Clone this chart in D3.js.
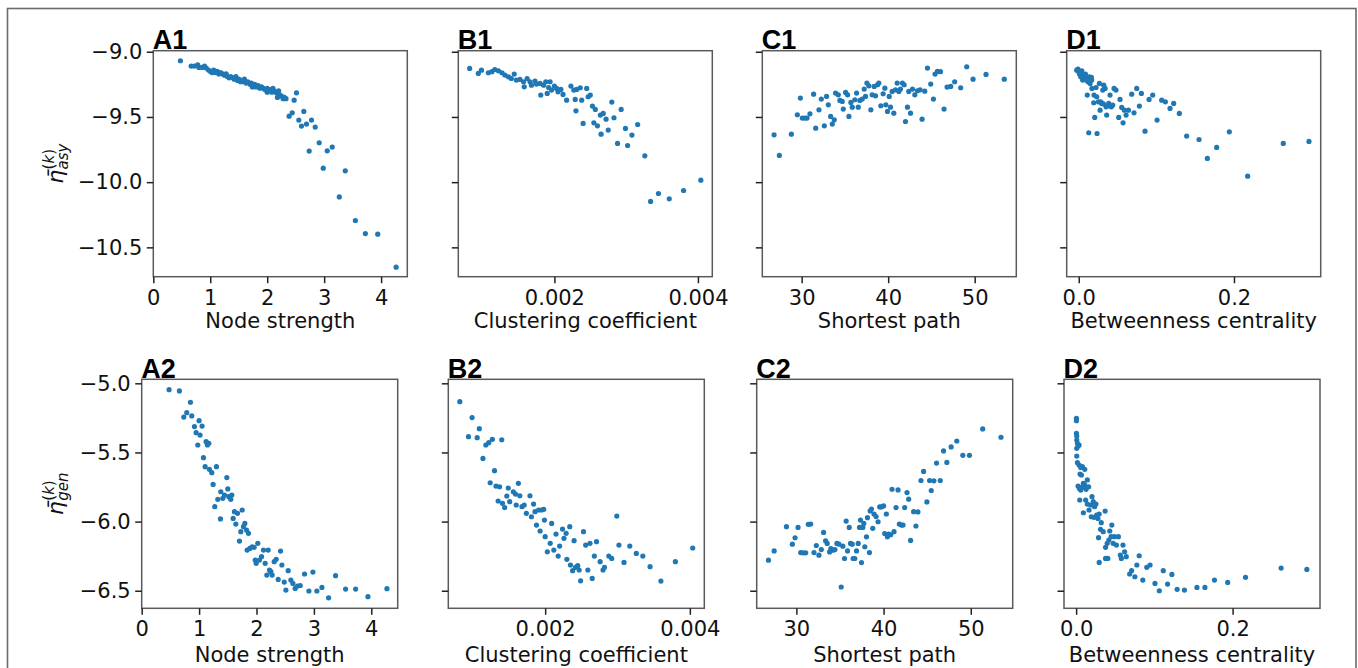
<!DOCTYPE html>
<html><head><meta charset="utf-8">
<script src="https://cdn.jsdelivr.net/npm/d3@7"></script>
<style>
html,body{margin:0;padding:0;background:#fff;}
svg{display:block;font-family:"DejaVu Sans",sans-serif;}
</style></head>
<body>
<svg id="chart" width="1358" height="668"></svg>
<script>
// ---------------- data ----------------
const strengthAsy = [[0.476,-9.069],[0.664,-9.110],[0.72,-9.11],[0.78,-9.10],[0.80,-9.12],[0.86,-9.12],[0.90,-9.11],[0.93,-9.125],[0.97,-9.14],[1.00,-9.15],[1.03,-9.16],[1.06,-9.14],[1.08,-9.16],[1.12,-9.15],[1.15,-9.17],[1.18,-9.16],[1.22,-9.17],[1.25,-9.18],[1.28,-9.17],[1.30,-9.19],[1.33,-9.20],[1.36,-9.19],[1.40,-9.20],[1.42,-9.21],[1.45,-9.19],[1.48,-9.22],[1.50,-9.21],[1.53,-9.23],[1.55,-9.22],[1.58,-9.23],[1.60,-9.21],[1.63,-9.24],[1.66,-9.23],[1.70,-9.25],[1.72,-9.24],[1.74,-9.27],[1.75,-9.26],[1.78,-9.25],[1.80,-9.27],[1.84,-9.26],[1.87,-9.28],[1.90,-9.27],[1.93,-9.28],[1.96,-9.29],[2.00,-9.28],[2.00,-9.31],[2.02,-9.30],[2.05,-9.29],[2.08,-9.31],[2.10,-9.28],[2.12,-9.30],[2.15,-9.31],[2.18,-9.32],[2.18,-9.35],[2.20,-9.30],[2.22,-9.33],[2.25,-9.34],[2.28,-9.36],[2.30,-9.35],[2.33,-9.36],[2.473,-9.371],[2.514,-9.315],[2.385,-9.494],[2.44,-9.468],[2.643,-9.458],[2.555,-9.524],[2.602,-9.570],[2.69,-9.555],[2.778,-9.524],[2.843,-9.578],[2.737,-9.762],[2.913,-9.698],[3.054,-9.760],[3.142,-9.731],[2.984,-9.893],[3.371,-9.913],[3.266,-10.113],[3.548,-10.294],[3.724,-10.394],[3.941,-10.399],[4.264,-10.652]];

const clusteringAsy = [[0.000819,-9.128],[0.00094,-9.166],[0.000984,-9.141],[0.00108,-9.161],[0.00113,-9.153],[0.00117,-9.136],[0.00122,-9.146],[0.00127,-9.161],[0.00131,-9.179],[0.00136,-9.192],[0.00140,-9.205],[0.00144,-9.171],[0.00147,-9.217],[0.00152,-9.212],[0.00157,-9.230],[0.00158,-9.269],[0.00162,-9.205],[0.00166,-9.230],[0.00168,-9.256],[0.00173,-9.225],[0.00175,-9.248],[0.00180,-9.243],[0.00181,-9.332],[0.00185,-9.256],[0.00188,-9.230],[0.00192,-9.274],[0.00194,-9.230],[0.00196,-9.294],[0.00200,-9.263],[0.00190,-9.320],[0.00203,-9.281],[0.00205,-9.307],[0.00209,-9.289],[0.00212,-9.327],[0.00217,-9.371],[0.00223,-9.263],[0.00227,-9.294],[0.00229,-9.366],[0.00230,-9.453],[0.00231,-9.289],[0.00236,-9.276],[0.00238,-9.371],[0.00240,-9.550],[0.00245,-9.281],[0.00247,-9.345],[0.00250,-9.332],[0.00253,-9.417],[0.00257,-9.442],[0.00255,-9.545],[0.00260,-9.568],[0.00264,-9.486],[0.00265,-9.632],[0.00268,-9.473],[0.00272,-9.517],[0.00275,-9.601],[0.00280,-9.386],[0.00283,-9.506],[0.00288,-9.703],[0.00293,-9.442],[0.00299,-9.588],[0.00302,-9.719],[0.00308,-9.639],[0.00316,-9.558],[0.00326,-9.798],[0.00334,-10.148],[0.00345,-10.087],[0.00360,-10.128],[0.00380,-10.064],[0.00404,-9.985]];

const pathAsy = [[26.81,-9.637],[27.42,-9.795],[28.81,-9.632],[29.50,-9.483],[29.85,-9.355],[30.08,-9.509],[30.38,-9.509],[30.62,-9.509],[30.96,-9.476],[31.38,-9.325],[31.62,-9.586],[32.0,-9.445],[32.27,-9.363],[32.62,-9.568],[32.88,-9.343],[33.08,-9.407],[33.35,-9.496],[33.54,-9.555],[33.77,-9.522],[33.92,-9.317],[34.23,-9.330],[34.42,-9.373],[34.69,-9.381],[34.81,-9.440],[35.08,-9.312],[35.31,-9.330],[35.46,-9.496],[35.69,-9.389],[35.85,-9.425],[36.15,-9.368],[36.35,-9.317],[36.54,-9.425],[36.73,-9.373],[37.0,-9.363],[37.23,-9.286],[37.38,-9.343],[37.54,-9.240],[37.77,-9.261],[38.0,-9.445],[38.15,-9.330],[38.38,-9.266],[38.54,-9.338],[38.77,-9.253],[38.92,-9.240],[39.15,-9.414],[39.42,-9.322],[39.62,-9.279],[39.73,-9.407],[39.92,-9.458],[40.12,-9.343],[40.27,-9.425],[40.46,-9.304],[40.65,-9.471],[40.85,-9.292],[41.04,-9.240],[41.23,-9.304],[41.42,-9.286],[41.65,-9.240],[41.85,-9.253],[42.0,-9.535],[42.23,-9.425],[42.38,-9.304],[42.58,-9.471],[42.81,-9.286],[43.08,-9.330],[43.38,-9.299],[43.69,-9.292],[43.92,-9.517],[44.23,-9.302],[44.54,-9.125],[44.92,-9.248],[45.23,-9.363],[45.42,-9.171],[45.69,-9.151],[46.04,-9.153],[46.46,-9.440],[46.81,-9.271],[47.23,-9.266],[47.69,-9.230],[48.38,-9.276],[49.08,-9.115],[49.81,-9.210],[51.31,-9.174],[53.42,-9.210]];

const betweennessAsy = [[-0.001,-9.133],[0.0,-9.153],[0.001,-9.171],[0.0026,-9.192],[0.004,-9.146],[0.005,-9.217],[0.007,-9.187],[0.0086,-9.171],[0.010,-9.205],[0.012,-9.230],[0.0137,-9.192],[0.0146,-9.243],[0.0163,-9.197],[0.017,-9.281],[0.011,-9.332],[0.0129,-9.621],[0.0193,-9.391],[0.0206,-9.504],[0.0223,-9.274],[0.0236,-9.627],[0.0253,-9.384],[0.0266,-9.243],[0.0275,-9.448],[0.0296,-9.396],[0.031,-9.294],[0.0322,-9.256],[0.034,-9.281],[0.0352,-9.422],[0.036,-9.486],[0.0386,-9.396],[0.0403,-9.332],[0.042,-9.422],[0.0438,-9.409],[0.0455,-9.281],[0.048,-9.294],[0.0515,-9.504],[0.0532,-9.366],[0.0554,-9.427],[0.0571,-9.545],[0.0588,-9.448],[0.061,-9.486],[0.064,-9.448],[0.0682,-9.325],[0.0712,-9.468],[0.0747,-9.281],[0.0781,-9.417],[0.0807,-9.320],[0.0854,-9.609],[0.0906,-9.366],[0.0953,-9.332],[0.1009,-9.524],[0.1069,-9.371],[0.1116,-9.384],[0.1176,-9.435],[0.1223,-9.396],[0.1296,-9.473],[0.139,-9.647],[0.155,-9.673],[0.1657,-9.818],[0.1777,-9.734],[0.194,-9.614],[0.2176,-9.954],[0.2635,-9.703],[0.2966,-9.688],[-0.0026,-9.141],[0.0017,-9.161],[0.006,-9.179],[0.0094,-9.217],[0.0167,-9.217],[0.0197,-9.332],[0.0232,-9.345],[0.0283,-9.384],[0.0403,-9.417],[0.0318,-9.40]];

const strengthGen = [[0.477,-5.046],[0.657,-5.055],[0.849,-5.137],[0.733,-5.244],[0.785,-5.212],[0.872,-5.236],[0.919,-5.313],[0.948,-5.357],[1.0,-5.270],[1.017,-5.374],[1.052,-5.309],[0.977,-5.446],[1.122,-5.422],[1.145,-5.446],[1.169,-5.434],[1.076,-5.538],[1.105,-5.603],[1.180,-5.622],[1.221,-5.646],[1.302,-5.603],[1.244,-5.731],[1.273,-5.892],[1.326,-5.839],[1.378,-5.784],[1.372,-5.981],[1.413,-5.832],[1.442,-5.808],[1.483,-5.682],[1.5,-5.764],[1.517,-5.820],[1.552,-5.839],[1.57,-5.808],[1.593,-5.977],[1.616,-5.928],[1.64,-6.018],[1.669,-5.940],[1.703,-6.141],[1.727,-6.073],[1.75,-5.916],[1.773,-6.037],[1.797,-6.013],[1.826,-6.061],[1.86,-6.085],[1.837,-6.206],[1.884,-6.194],[1.924,-6.182],[1.959,-6.186],[1.977,-6.278],[1.994,-6.302],[2.023,-6.157],[2.052,-6.278],[2.087,-6.254],[2.122,-6.206],[2.151,-6.302],[2.18,-6.387],[2.203,-6.206],[2.227,-6.350],[2.25,-6.362],[2.273,-6.387],[2.308,-6.290],[2.343,-6.273],[2.378,-6.418],[2.419,-6.213],[2.442,-6.314],[2.483,-6.437],[2.512,-6.495],[2.552,-6.355],[2.599,-6.423],[2.634,-6.447],[2.674,-6.483],[2.715,-6.466],[2.762,-6.462],[2.837,-6.379],[2.913,-6.502],[2.983,-6.365],[3.052,-6.502],[3.14,-6.476],[3.256,-6.551],[3.378,-6.391],[3.552,-6.488],[3.727,-6.488],[3.942,-6.543],[4.273,-6.485]];

const clusteringGen = [[0.00082,-5.133],[0.00099,-5.248],[0.00109,-5.328],[0.00094,-5.386],[0.00106,-5.393],[0.00118,-5.446],[0.00122,-5.429],[0.00127,-5.405],[0.0014,-5.408],[0.00114,-5.543],[0.0013,-5.632],[0.00124,-5.719],[0.00132,-5.743],[0.00137,-5.748],[0.00135,-5.851],[0.00141,-5.868],[0.00144,-5.899],[0.00147,-5.815],[0.00149,-5.757],[0.00151,-5.856],[0.00156,-5.784],[0.00159,-5.801],[0.00160,-5.880],[0.00163,-5.723],[0.00165,-5.813],[0.00168,-5.892],[0.00171,-5.880],[0.00174,-5.940],[0.00179,-5.813],[0.00181,-5.965],[0.00184,-5.873],[0.00186,-5.928],[0.00188,-6.025],[0.00191,-5.916],[0.00193,-6.068],[0.00195,-5.916],[0.00198,-5.911],[0.002,-6.109],[0.00199,-5.989],[0.00203,-6.218],[0.00207,-6.157],[0.00209,-6.013],[0.00212,-6.206],[0.00215,-6.090],[0.00218,-6.249],[0.0022,-6.177],[0.00224,-6.054],[0.00226,-6.121],[0.00229,-6.085],[0.0023,-6.273],[0.00234,-6.037],[0.00235,-6.314],[0.00238,-6.355],[0.0024,-6.138],[0.00242,-6.331],[0.00245,-6.319],[0.00247,-6.350],[0.00249,-6.428],[0.00253,-6.073],[0.00256,-6.170],[0.00259,-6.350],[0.00262,-6.157],[0.00265,-6.411],[0.00268,-6.249],[0.00271,-6.145],[0.00276,-6.290],[0.0028,-6.350],[0.00282,-6.331],[0.00288,-6.249],[0.00292,-6.266],[0.00299,-5.960],[0.00302,-6.170],[0.00309,-6.295],[0.00317,-6.177],[0.00326,-6.230],[0.00335,-6.249],[0.00345,-6.326],[0.0036,-6.430],[0.0038,-6.290],[0.00404,-6.191]];

const pathGen = [[26.8,-6.279],[27.45,-6.212],[28.86,-6.037],[29.54,-6.163],[29.85,-6.117],[30.19,-6.042],[30.50,-6.224],[30.76,-6.226],[31.07,-6.226],[31.37,-6.020],[31.64,-6.018],[32.02,-6.224],[32.29,-6.173],[32.59,-6.243],[32.86,-6.202],[33.12,-6.078],[33.35,-6.139],[33.54,-6.158],[33.81,-6.219],[33.96,-6.195],[34.19,-6.207],[34.42,-6.202],[34.65,-6.158],[34.88,-6.163],[35.14,-6.473],[35.33,-6.178],[35.52,-6.267],[35.71,-5.996],[35.87,-6.212],[36.06,-6.042],[36.21,-6.158],[36.40,-6.163],[36.51,-6.267],[36.70,-6.267],[36.9,-6.212],[37.09,-6.158],[37.24,-6.042],[37.35,-5.989],[37.47,-6.296],[37.62,-6.042],[37.73,-6.013],[37.85,-6.182],[38.04,-6.110],[38.15,-5.972],[38.38,-6.224],[38.46,-5.923],[38.61,-5.909],[38.76,-6.049],[38.91,-5.945],[39.14,-5.964],[39.37,-6.001],[39.56,-5.894],[39.75,-5.894],[40.0,-5.887],[40.13,-6.086],[40.32,-5.945],[40.44,-6.110],[40.59,-6.090],[40.82,-6.095],[40.97,-5.766],[41.2,-6.073],[41.43,-5.899],[41.66,-5.771],[41.81,-6.018],[42.04,-6.025],[42.23,-6.025],[42.42,-5.899],[42.69,-5.790],[42.88,-5.838],[43.1,-6.136],[43.45,-5.928],[43.71,-6.032],[43.94,-5.930],[44.29,-5.703],[44.59,-5.637],[44.97,-5.858],[45.28,-5.703],[45.47,-5.775],[45.77,-5.705],[46.08,-5.577],[46.50,-5.703],[46.88,-5.489],[47.26,-5.572],[47.75,-5.460],[48.40,-5.417],[49.09,-5.521],[49.85,-5.521],[51.37,-5.330],[53.47,-5.390]];

const betweennessGen = [[0.0004,-5.253],[0.0004,-5.270],[0.0004,-5.362],[0.0008,-5.381],[0.0008,-5.410],[0.0017,-5.434],[0.0025,-5.453],[0.0038,-5.446],[0.0008,-5.470],[0.0008,-5.526],[0.0017,-5.574],[0.0038,-5.591],[0.0059,-5.608],[0.008,-5.603],[0.011,-5.622],[0.005,-5.656],[0.0068,-5.663],[0.0025,-5.743],[0.0042,-5.760],[0.0059,-5.772],[0.008,-5.748],[0.0093,-5.723],[0.011,-5.735],[0.0127,-5.767],[0.0143,-5.699],[0.016,-5.748],[0.0046,-5.844],[0.0093,-5.936],[0.0122,-5.844],[0.0143,-5.873],[0.0165,-5.916],[0.0186,-5.880],[0.0203,-5.820],[0.0219,-5.856],[0.0236,-5.892],[0.0253,-5.873],[0.0194,-5.965],[0.0228,-5.969],[0.0262,-5.953],[0.0278,-5.977],[0.0295,-5.945],[0.0321,-6.008],[0.0371,-5.924],[0.0312,-6.056],[0.0346,-6.073],[0.0287,-6.116],[0.0295,-6.295],[0.0376,-6.186],[0.0397,-6.157],[0.0418,-6.133],[0.043,-6.068],[0.0456,-6.025],[0.0447,-6.109],[0.0473,-6.157],[0.049,-6.109],[0.0515,-6.170],[0.0540,-6.109],[0.0565,-6.242],[0.0578,-6.266],[0.0599,-6.170],[0.062,-6.218],[0.0641,-6.254],[0.0376,-6.266],[0.0405,-6.266],[0.0684,-6.379],[0.0709,-6.355],[0.0751,-6.399],[0.0776,-6.314],[0.0806,-6.247],[0.0852,-6.423],[0.0903,-6.331],[0.0945,-6.314],[0.1008,-6.447],[0.1063,-6.500],[0.1114,-6.355],[0.1169,-6.452],[0.1224,-6.382],[0.1291,-6.490],[0.1384,-6.495],[0.1544,-6.476],[0.1646,-6.476],[0.1768,-6.423],[0.1937,-6.440],[0.2165,-6.403],[0.262,-6.336],[0.2949,-6.346]];

// axis limits, ticks and labels
const xLimits = [[0, 4.46], [0.000661, 0.0042], [25.45, 54.81], [-0.0155, 0.3117]];
const xTicks = [[0, 1, 2, 3, 4], [0.002, 0.004], [30, 40, 50], [0.0, 0.2]];
const xTickLabels = [["0", "1", "2", "3", "4"], ["0.002", "0.004"], ["30", "40", "50"], ["0.0", "0.2"]];
const xTitles = ["Node strength", "Clustering coefficient", "Shortest path", "Betweenness centrality"];
const yLimits = [[-10.725, -8.992], [-6.627, -4.971]];
const yTicks = [[-9.0, -9.5, -10.0, -10.5], [-5.0, -5.5, -6.0, -6.5]];
const yTickLabels = [["−9.0", "−9.5", "−10.0", "−10.5"], ["−5.0", "−5.5", "−6.0", "−6.5"]];
const ySubscripts = ["asy", "gen"];
const panelLetters = ["A", "B", "C", "D"];
const panelData = [[strengthAsy, clusteringAsy, pathAsy, betweennessAsy], [strengthGen, clusteringGen, pathGen, betweennessGen]];

// ---------------- layout ----------------
const rows = [
  {top: 50.7, bottom: 276.7, width: 254, lefts: [153.3, 458.3, 762.3, 1066.7], tickPad: 28.3, titlePad: 51.6, yLabX: 63},
  {top: 379.3, bottom: 608.3, width: 256, lefts: [141.7, 448.3, 756.7, 1064], tickPad: 27.7, titlePad: 53.4, yLabX: 63}
];
const dotColor = "#1f77b4";
const fs = 21;
const ink = "#111";

const svg = d3.select("#chart");
svg.append("rect").attr("x", 7.5).attr("y", 8.5).attr("width", 1348.5).attr("height", 700)
  .attr("fill", "none").attr("stroke", "#6b6b6b").attr("stroke-width", 1.6);

rows.forEach((R, ri) => {
  const y = d3.scaleLinear().domain(yLimits[ri]).range([R.bottom, R.top]);
  for (let ci = 0; ci < 4; ci++) {
    const left = R.lefts[ci];
    const x = d3.scaleLinear().domain(xLimits[ci]).range([left, left + R.width]);
    const g = svg.append("g");
    // dots
    g.append("g").selectAll("circle").data(panelData[ri][ci]).join("circle")
      .attr("cx", d => x(d[0])).attr("cy", d => y(d[1])).attr("r", 2.6).attr("fill", dotColor);
    // frame
    g.append("rect").attr("x", left).attr("y", R.top).attr("width", R.width).attr("height", R.bottom - R.top)
      .attr("fill", "none").attr("stroke", "#5a5a5a").attr("stroke-width", 1.5);
    // x axis
    const xa = d3.axisBottom(x).tickValues(xTicks[ci]).tickSize(6.5).tickPadding(0)
      .tickFormat((d, i) => xTickLabels[ci][i]);
    const gx = g.append("g").attr("transform", `translate(0,${R.bottom})`).call(xa);
    gx.select(".domain").remove();
    gx.selectAll(".tick line").attr("stroke", "#222").attr("stroke-width", 1.5);
    gx.selectAll(".tick text").attr("y", R.tickPad).attr("dy", null)
      .attr("font-size", fs).attr("font-family", "DejaVu Sans").attr("fill", ink);
    // y axis
    const ya = d3.axisLeft(y).tickValues(yTicks[ri]).tickSize(6.5).tickPadding(4.5)
      .tickFormat((d, i) => ci === 0 ? yTickLabels[ri][i] : "");
    const gy = g.append("g").attr("transform", `translate(${left},0)`).call(ya);
    gy.select(".domain").remove();
    gy.selectAll(".tick line").attr("stroke", "#222").attr("stroke-width", 1.5);
    gy.selectAll(".tick text").attr("font-size", fs).attr("font-family", "DejaVu Sans").attr("fill", ink);
    // x title
    g.append("text").attr("x", left + R.width / 2).attr("y", R.bottom + R.titlePad)
      .attr("text-anchor", "middle").attr("font-size", fs).attr("fill", ink).text(xTitles[ci]);
    // panel letter
    g.append("text").attr("x", left - 0.5).attr("y", R.top - 1.5)
      .attr("font-family", "'Liberation Sans', Arial, sans-serif").attr("font-weight", "bold")
      .attr("font-size", 27).attr("fill", "#000").text(panelLetters[ci] + (ri + 1));
  }
  // y label: eta bar with superscript (k) and subscript
  const cy = (R.top + R.bottom) / 2;
  const lg = svg.append("g").attr("transform", `translate(${R.yLabX},${cy}) rotate(-90)`);
  const inner = lg.append("g");
  const eta = inner.append("text").attr("font-size", 22).attr("font-style", "italic").attr("fill", ink).text("η\u0304");
  const w = eta.node().getComputedTextLength();
  const sup = inner.append("text").attr("x", w + 0.5).attr("y", -9.5).attr("font-size", 15).attr("fill", ink);
  sup.append("tspan").text("(");
  sup.append("tspan").attr("font-style", "italic").text("k");
  sup.append("tspan").text(")");
  const sub = inner.append("text").attr("x", w + 0.5).attr("y", 5).attr("font-size", 15).attr("font-style", "italic").attr("fill", ink).text(ySubscripts[ri]);
  const total = w + 0.5 + Math.max(sup.node().getComputedTextLength(), sub.node().getComputedTextLength());
  inner.attr("transform", `translate(${-total / 2},0)`);
});
</script>
</body></html>
